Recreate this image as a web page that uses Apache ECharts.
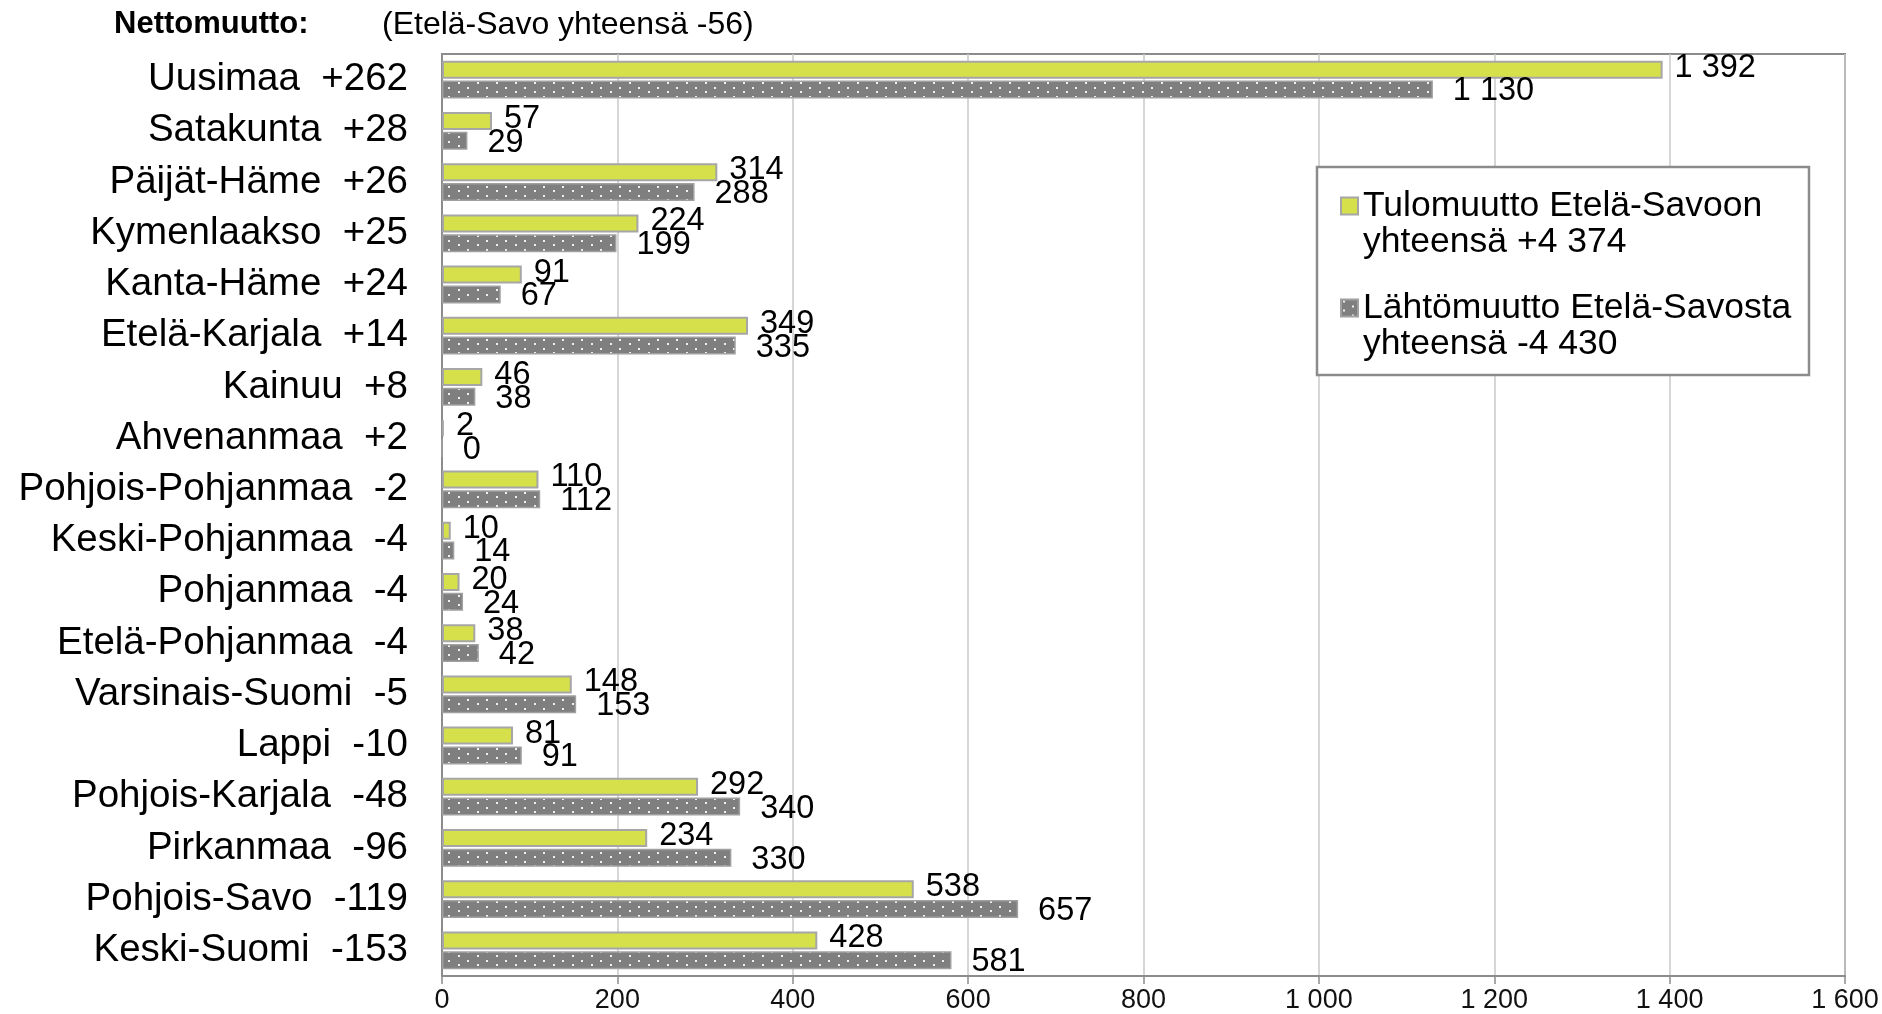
<!DOCTYPE html>
<html>
<head>
<meta charset="utf-8">
<script src="https://cdn.jsdelivr.net/npm/echarts@6/dist/echarts.min.js"></script>
<style>
  html, body { margin: 0; padding: 0; background: #fff; }
  #myechart { width: 1882px; height: 1014px; }
</style>
</head>
<body>
<div id="myechart"></div>
<script>
// maakunnat ylhäältä alas
var regions = ["Uusimaa", "Satakunta", "Päijät-Häme", "Kymenlaakso", "Kanta-Häme", "Etelä-Karjala",
    "Kainuu", "Ahvenanmaa", "Pohjois-Pohjanmaa", "Keski-Pohjanmaa", "Pohjanmaa", "Etelä-Pohjanmaa",
    "Varsinais-Suomi", "Lappi", "Pohjois-Karjala", "Pirkanmaa", "Pohjois-Savo", "Keski-Suomi"];
var tulo = [1392, 57, 314, 224, 91, 349, 46, 2, 110, 10, 20, 38, 148, 81, 292, 234, 538, 428];
var lahto = [1130, 29, 288, 199, 67, 335, 38, 0, 112, 14, 24, 42, 153, 91, 340, 330, 657, 581];
var xTicks = [0, 200, 400, 600, 800, 1000, 1200, 1400, 1600];

var fontFam = "Liberation Sans, Arial, sans-serif";

// tuhaterotin välilyönnillä
function fmt(v) {
    var s = String(Math.abs(v));
    if (s.length > 3) s = s.slice(0, s.length - 3) + " " + s.slice(s.length - 3);
    return (v < 0 ? "-" : "") + s;
}
function signed(v) {
    return (v > 0 ? "+" : "") + fmt(v);
}

var netto = regions.map(function (r, i) { return tulo[i] - lahto[i]; });
var catLabels = regions.map(function (r, i) { return r + "  " + signed(netto[i]); });
var sumTulo = tulo.reduce(function (a, b) { return a + b; }, 0);
var sumLahto = lahto.reduce(function (a, b) { return a + b; }, 0);
var sumNetto = sumTulo - sumLahto;

// pistekuvio harmaalle palkille
var pat = document.createElement("canvas");
pat.width = 19;
pat.height = 9;
var pctx = pat.getContext("2d");
pctx.fillStyle = "#7f7f7f";
pctx.fillRect(0, 0, 19, 9);
pctx.fillStyle = "#f0f0f0";
pctx.fillRect(2, 1, 2, 2);
pctx.fillRect(11, 6, 2, 2);

var legendNames = {
    "Tulomuutto Etelä-Savoon": "yhteensä " + signed(sumTulo),
    "Lähtömuutto Etelä-Savosta": "yhteensä -" + fmt(sumLahto)
};

var option = {
    animation: false,
    textStyle: { fontFamily: fontFam },
    title: [
        {
            text: "Nettomuutto:",
            left: 114, top: 9, padding: 0,
            textStyle: { fontSize: 31, fontWeight: "bold", color: "#000", fontFamily: fontFam }
        },
        {
            text: "(Etelä-Savo yhteensä " + fmt(sumNetto) + ")",
            left: 382, top: 9, padding: 0,
            textStyle: { fontSize: 32, fontWeight: "normal", color: "#000", fontFamily: fontFam }
        }
    ],
    grid: {
        left: 442, right: 37, top: 54, bottom: 37,
        show: true,
        borderColor: "#8c8c8c",
        borderWidth: 2
    },
    legend: {
        orient: "vertical",
        left: 1335,
        top: 147,
        icon: "rect",
        itemWidth: 17,
        itemHeight: 17,
        itemGap: -6,
        z: 10,
        data: ["Tulomuutto Etelä-Savoon", "Lähtömuutto Etelä-Savosta"],
        formatter: function (name) {
            return "\n" + name + "\n" + legendNames[name];
        },
        textStyle: { fontSize: 35.5, lineHeight: 36, color: "#000", fontFamily: fontFam }
    },
    graphic: [
        {
            type: "rect",
            z: 5,
            shape: { x: 1317, y: 167, width: 492, height: 208 },
            style: { fill: "#fff", stroke: "#8c8c8c", lineWidth: 2.5 }
        }
    ],
    xAxis: {
        type: "value",
        min: xTicks[0],
        max: xTicks[xTicks.length - 1],
        interval: 200,
        axisLine: { show: true, lineStyle: { color: "#8c8c8c", width: 2 } },
        axisTick: { show: true, length: 8, lineStyle: { color: "#8c8c8c", width: 1.5 } },
        splitLine: { show: true, lineStyle: { color: "#c8c8c8", width: 1.5 } },
        axisLabel: {
            fontSize: 27, color: "#111", margin: 11, fontFamily: fontFam,
            formatter: function (v) { return fmt(v); }
        }
    },
    yAxis: {
        type: "category",
        inverse: true,
        data: catLabels,
        axisLine: { show: true, lineStyle: { color: "#8c8c8c", width: 2 } },
        axisTick: { show: false },
        axisLabel: { fontSize: 38.5, color: "#000", margin: 34, padding: [8, 0, 0, 0], fontFamily: fontFam }
    },
    series: [
        {
            name: "Tulomuutto Etelä-Savoon",
            type: "bar",
            data: tulo,
            barWidth: 18,
            barGap: "10%",
            itemStyle: { color: "#d5e04b", borderColor: "#a6a6a6", borderWidth: 2 },
            label: {
                show: true, position: "right", distance: 12, offset: [0, -2],
                fontSize: 32.5, color: "#000", fontFamily: fontFam,
                formatter: function (p) { return fmt(p.value); }
            }
        },
        {
            name: "Lähtömuutto Etelä-Savosta",
            type: "bar",
            data: lahto,
            barWidth: 18,
            barGap: "10%",
            itemStyle: { color: { image: pat, repeat: "repeat" }, borderColor: "#a0a0a0", borderWidth: 1.5 },
            label: {
                show: true, position: "right", distance: 20, offset: [0, 2],
                fontSize: 32.5, color: "#000", fontFamily: fontFam,
                formatter: function (p) { return fmt(p.value); }
            }
        }
    ]
};

var myChart = echarts.init(document.getElementById("myechart"));
myChart.setOption(option);
</script>
</body>
</html>
